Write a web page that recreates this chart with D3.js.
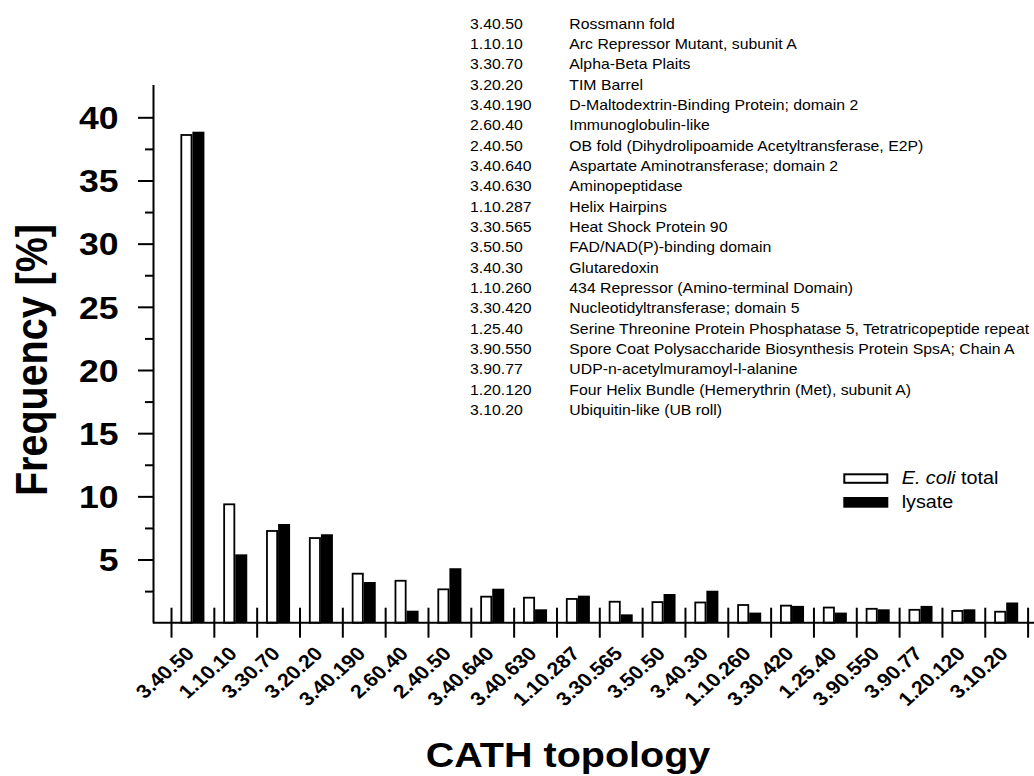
<!DOCTYPE html>
<html>
<head>
<meta charset="utf-8">
<script src="https://cdn.jsdelivr.net/npm/d3@7"></script>
<style>
  html, body { margin: 0; padding: 0; background: #fff; }
  svg { display: block; font-family: "Liberation Sans", Arial, sans-serif; }
</style>
</head>
<body>
<svg id="chart" width="1034" height="776"></svg>
<script>
// CATH topology codes shown on the x axis
const categories = ["3.40.50", "1.10.10", "3.30.70", "3.20.20", "3.40.190", "2.60.40", "2.40.50",
  "3.40.640", "3.40.630", "1.10.287", "3.30.565", "3.50.50", "3.40.30", "1.10.260", "3.30.420",
  "1.25.40", "3.90.550", "3.90.77", "1.20.120", "3.10.20"];

// Topology names listed in the key at the top
const topologyNames = ["Rossmann fold", "Arc Repressor Mutant, subunit A", "Alpha-Beta Plaits",
  "TIM Barrel", "D-Maltodextrin-Binding Protein; domain 2", "Immunoglobulin-like",
  "OB fold (Dihydrolipoamide Acetyltransferase, E2P)", "Aspartate Aminotransferase; domain 2",
  "Aminopeptidase", "Helix Hairpins", "Heat Shock Protein 90", "FAD/NAD(P)-binding domain",
  "Glutaredoxin", "434 Repressor (Amino-terminal Domain)", "Nucleotidyltransferase; domain 5",
  "Serine Threonine Protein Phosphatase 5, Tetratricopeptide repeat",
  "Spore Coat Polysaccharide Biosynthesis Protein SpsA; Chain A",
  "UDP-n-acetylmuramoyl-l-alanine", "Four Helix Bundle (Hemerythrin (Met), subunit A)",
  "Ubiquitin-like (UB roll)"];

// Frequency [%] per topology
const ecoliTotal = [38.6, 9.37, 7.26, 6.70, 3.88, 3.32, 2.64, 2.06, 1.98, 1.88,
  1.66, 1.63, 1.60, 1.40, 1.35, 1.20, 1.10, 1.02, 0.93, 0.87];
const lysate = [38.86, 5.41, 7.81, 7.00, 3.22, 0.95, 4.31, 2.69, 1.06, 2.14,
  0.66, 2.27, 2.53, 0.80, 1.33, 0.80, 1.06, 1.33, 1.06, 1.60];

// Axis ticks
const majorTicks = [5, 10, 15, 20, 25, 30, 35, 40];
const minorTicks = [2.5, 7.5, 12.5, 17.5, 22.5, 27.5, 32.5, 37.5];

const seriesLabels = ["total", "lysate"];

// ---- layout ----
const SX = 1.13;            // horizontal text stretch
const axisX = 153;          // y-axis position
const baseY = 622.7;        // x-axis position
const plotLeft = 171, plotRight = 1027.6;
const unitPx = 12.635;
const yMax = 42.6;
const barW = 12;

const svg = d3.select("#chart");

const y = d3.scaleLinear().domain([0, yMax]).range([baseY, baseY - yMax * unitPx]);
const xBand = d3.scaleBand().domain(categories).range([plotLeft, plotRight]).padding(0);
const xEdge = d3.scaleLinear().domain([0, categories.length]).range([plotLeft, plotRight]);

// helper for horizontally stretched text
function stretchedText(parent, x, yPos, str, opts = {}) {
  const g = parent.append("g")
    .attr("transform", `translate(${x},${yPos}) scale(${SX},1)` + (opts.rotate ? ` rotate(${opts.rotate})` : ""));
  const t = g.append("text")
    .attr("font-size", opts.size || 14)
    .attr("font-weight", opts.weight || "normal")
    .attr("text-anchor", opts.anchor || "start")
    .attr("fill", "#000");
  return t.text(str);
}

// ---- bars ----
const bars = svg.append("g");
const groups = bars.selectAll("g.cat").data(categories).join("g")
  .attr("class", "cat")
  .attr("transform", d => `translate(${xBand(d) + xBand.bandwidth() / 2},0)`);

groups.append("rect")
  .attr("x", -barW + 0.9)
  .attr("width", barW - 1.8)
  .attr("y", (d, i) => y(ecoliTotal[i]))
  .attr("height", (d, i) => baseY - y(ecoliTotal[i]))
  .attr("fill", "#fff")
  .attr("stroke", "#000")
  .attr("stroke-width", 1.8);

groups.append("rect")
  .attr("x", 0)
  .attr("width", barW)
  .attr("y", (d, i) => y(lysate[i]))
  .attr("height", (d, i) => baseY - y(lysate[i]))
  .attr("fill", "#000");

// ---- y axis ----
const yAxisG = svg.append("g").attr("transform", `translate(${axisX},0)`);
yAxisG.call(d3.axisLeft(y).tickValues(majorTicks).tickSize(15).tickSizeOuter(0).tickFormat(d3.format("d")));
yAxisG.select(".domain").attr("stroke-width", 2);
yAxisG.selectAll(".tick line").attr("stroke-width", 2);
yAxisG.selectAll(".tick text")
  .attr("x", -(axisX - 118.5) / SX)
  .attr("dy", "0.36em")
  .attr("transform", `scale(${SX},1)`)
  .attr("font-size", 31.5)
  .attr("font-weight", "bold")
  .attr("font-family", "Liberation Sans, Arial, sans-serif")
  .attr("fill", "#000");

const yMinorG = svg.append("g").attr("transform", `translate(${axisX},0)`);
yMinorG.call(d3.axisLeft(y).tickValues(minorTicks).tickSize(8).tickFormat(""));
yMinorG.select(".domain").remove();
yMinorG.selectAll(".tick line").attr("stroke-width", 2);

// ---- x axis ----
svg.append("line")
  .attr("x1", axisX).attr("x2", 1034)
  .attr("y1", baseY).attr("y2", baseY)
  .attr("stroke", "#000").attr("stroke-width", 2);

const xTickG = svg.append("g").attr("transform", `translate(0,${baseY})`);
xTickG.call(d3.axisBottom(xEdge).tickValues(d3.range(categories.length + 1)).tickSize(15).tickFormat(""));
xTickG.select(".domain").remove();
xTickG.selectAll(".tick line").attr("y1", -15).attr("stroke-width", 2);

// category labels, rotated, anchored below each band centre
const xLabelG = svg.append("g");
categories.forEach(c => {
  stretchedText(xLabelG, xBand(c) + xBand.bandwidth() / 2 + 3, baseY + 32, c,
    { size: 19, weight: "bold", anchor: "end", rotate: -45 });
});

// ---- axis titles ----
stretchedText(svg, 47, 360, "Frequency [%]", { size: 39.5, weight: "bold", anchor: "middle", rotate: -90 });
stretchedText(svg, 568, 766.7, "CATH topology", { size: 35, weight: "bold", anchor: "middle" });

// ---- topology key ----
const key = svg.append("g");
categories.forEach((c, i) => {
  const by = 28.8 + i * 20.33;
  stretchedText(key, 470, by, c, { size: 14 });
  stretchedText(key, 569.3, by, topologyNames[i], { size: 14 });
});

// ---- legend ----
const legend = svg.append("g");
legend.append("rect")
  .attr("x", 844.3).attr("y", 474.3).attr("width", 43).attr("height", 8.5)
  .attr("fill", "#fff").attr("stroke", "#000").attr("stroke-width", 2);
legend.append("rect")
  .attr("x", 843.3).attr("y", 497).attr("width", 45).attr("height", 10.7)
  .attr("fill", "#000");

const t1 = stretchedText(legend, 901.7, 484.3, "", { size: 17.5 });
t1.append("tspan").attr("font-style", "italic").text("E. coli");
t1.append("tspan").text(" " + seriesLabels[0]);
stretchedText(legend, 901.7, 508.3, seriesLabels[1], { size: 17.5 });
</script>
</body>
</html>
